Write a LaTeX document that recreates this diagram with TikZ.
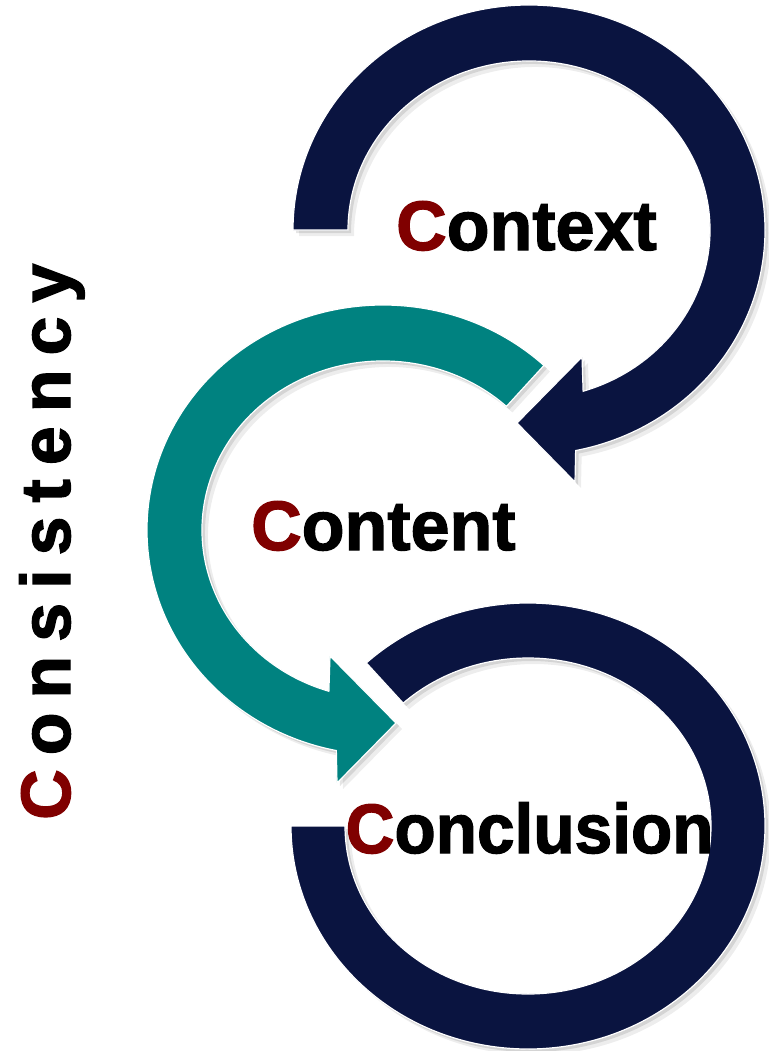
\documentclass[tikz,border=0pt]{standalone}
\usepackage{fontspec}
\setmainfont{Liberation Sans}[BoldFeatures={FakeBold=1.8}]
\definecolor{navy}{RGB}{10,20,64}
\definecolor{teal2}{RGB}{0,130,128}
\definecolor{cred}{RGB}{128,0,0}
\tikzset{
  toparc/.pic={\path[pic actions] (180:236 and 225) arc[start angle=180, end angle=438.6, x radius=236, y radius=225]
      -- (46,252) -- (-12,193) -- (53,127) -- (432.6:181 and 169)
      arc[start angle=432.6, end angle=180, x radius=181, y radius=169] -- cycle;},
  midarc/.pic={\path[pic actions] (313:236 and 225) arc[start angle=313, end angle=101.4, x radius=236, y radius=225]
      -- (-46,253) -- (13,193) -- (-53,126) -- (107.4:181 and 169)
      arc[start angle=107.4, end angle=313, x radius=181, y radius=169] -- cycle;},
  ring/.pic={\path[pic actions] (227:237 and 223) arc[start angle=227, end angle=540, x radius=237, y radius=223]
      -- (540:183 and 168) arc[start angle=540, end angle=227, x radius=183, y radius=168] -- cycle;},
  band/.style={fill=#1, draw=white, line width=1.2pt, line join=miter},
  shade1/.style={fill=black, draw=none, opacity=0.10},
  shade2/.style={fill=black, draw=none, opacity=0.07},
  lbl/.style={font=\bfseries\fontsize{70}{84}\selectfont, inner sep=0pt, anchor=base west, text=black},
}
\begin{document}
\begin{tikzpicture}[x=1pt,y=-1pt]
\useasboundingbox[fill=white] (0,0) rectangle (768,1051);
% shadows
\foreach \s/\o in {shade2/6, shade1/3}{
  \pic[\s] at ({529+\o},{230+\o}) {toparc};
  \pic[\s] at ({383+\o},{530+\o}) {midarc};
  \pic[\s] at ({528+\o},{826+\o}) {ring};
}
% shapes
\pic[band=navy] (top) at (529,230) {toparc};
\pic[band=teal2] (mid) at (383,530) {midarc};
\pic[band=navy] (bot) at (528,826) {ring};
% labels
\node[lbl] (context) at (396,250) {\textcolor{cred}{C}ontext};
\node[lbl] (content) at (251,550) {\textcolor{cred}{C}ontent};
\node[lbl, xscale=0.965] (conclusion) at (345.5,853) {\textcolor{cred}{C}onclusion};
\node[lbl, rotate=90] (consistency) at (70,820)
  {\textcolor{cred}{C}\kern14pt o\kern14pt n\kern14pt s\kern14pt i\kern14pt s\kern14pt t\kern14pt e\kern14pt n\kern14pt c\kern14pt y};
\end{tikzpicture}
\end{document}
